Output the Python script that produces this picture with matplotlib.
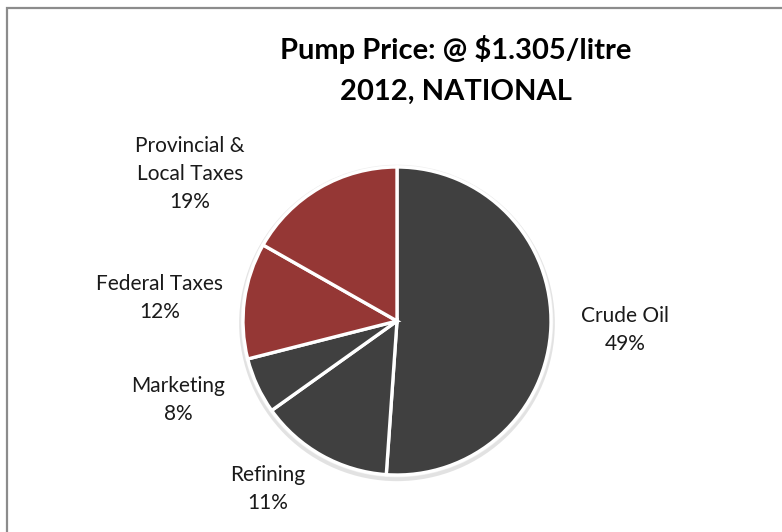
import matplotlib.pyplot as plt
from matplotlib.patches import Rectangle, Circle

plt.rcParams['font.family'] = ['Lato', 'DejaVu Sans']

# Pump price breakdown, cents per litre (sum = 130.5)
categories = ['Crude Oil', 'Refining', 'Marketing', 'Federal Taxes', 'Provincial &\nLocal Taxes']
cents = [66.7, 18.3, 7.7, 15.9, 21.9]
pct_labels = ['49%', '11%', '8%', '12%', '19%']
colors = ['#404040', '#404040', '#404040', '#953735', '#953735']

# label centres in pixels (x, y from top)
label_pos = [(625, 330), (268, 489), (178, 400), (160, 298), (190, 174)]

W, H = 782, 532
fig = plt.figure(figsize=(W / 100, H / 100), dpi=100)

# chart border (right/bottom edges are cropped off in the original)
fig.patches.append(Rectangle((7 / W, -0.1), 1.2, 1.1 - 8 / H, transform=fig.transFigure,
                             fill=False, edgecolor='#8c8c8c', linewidth=1.6))

cx, cy, r = 397, 321, 154
lim = 1.05
ax = fig.add_axes([(cx - r * lim) / W, (H - cy - r * lim) / H, 2 * r * lim / W, 2 * r * lim / H])

# soft shadow behind pie
ax.add_patch(Circle((0.0, -0.015), 1.025, color='#d0d0d0', alpha=0.6, zorder=0, lw=0))
ax.add_patch(Circle((0.0, 0.0), 1.015, color='#f0f0f0', zorder=0.5, lw=0))

ax.pie(cents, colors=colors, startangle=90, counterclock=False, radius=1,
       wedgeprops=dict(edgecolor='white', linewidth=2.4))
ax.set_xlim(-lim, lim)
ax.set_ylim(-lim, lim)
ax.axis('off')

for cat, pct, (px, py) in zip(categories, pct_labels, label_pos):
    fig.text(px / W, 1 - py / H, f'{cat}\n{pct}', ha='center', va='center',
             fontsize=15, color='#1a1a1a', linespacing=1.5)

fig.text(456 / W, 1 - 70 / H, 'Pump Price: @ $1.305/litre\n2012, NATIONAL',
         ha='center', va='center', fontsize=21, fontweight='bold',
         linespacing=1.7)

fig.savefig('out.png', dpi=100)
